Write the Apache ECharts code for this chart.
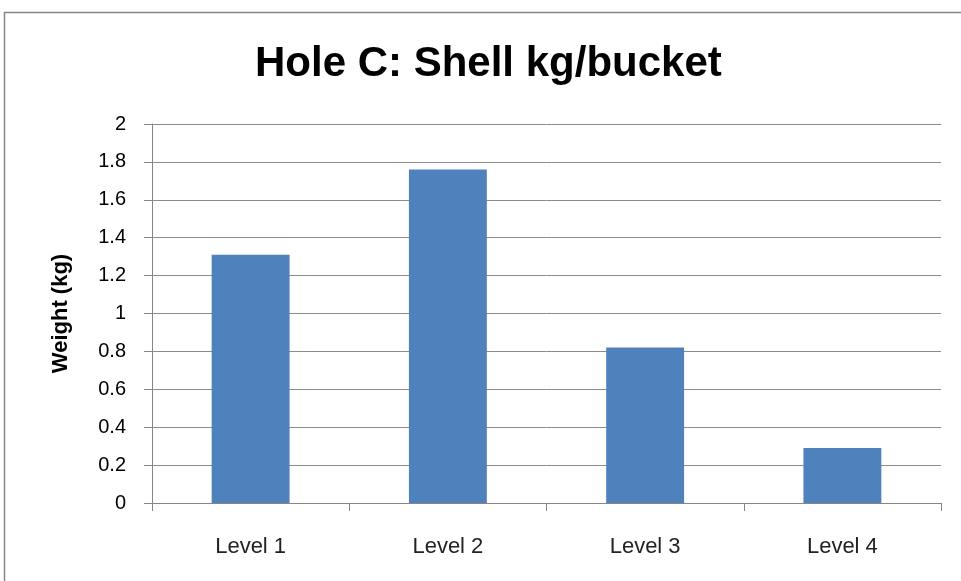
<!DOCTYPE html>
<html>
<head>
<meta charset="utf-8">
<script src="https://cdn.jsdelivr.net/npm/echarts@6/dist/echarts.min.js"></script>
<style>html,body{margin:0;padding:0;background:#fff;}#c{width:961px;height:581px;}</style>
</head>
<body>
<div id="c"></div>
<script>
const categories = ['Level 1', 'Level 2', 'Level 3', 'Level 4'];
const weights = [1.31, 1.76, 0.82, 0.29];
const titleText = 'Hole C: Shell kg/bucket';
const yName = 'Weight (kg)';

const chart = echarts.init(document.getElementById('c'));
chart.setOption({
  animation: false,
  backgroundColor: '#fff',
  graphic: [{
    type: 'rect',
    shape: { x: 4.5, y: 12.5, width: 1000, height: 1000 },
    style: { fill: 'none', stroke: '#868686', lineWidth: 1.5 },
    silent: true
  }],
  title: {
    text: titleText,
    left: 255,
    top: 43,
    padding: 0,
    textStyle: { fontFamily: 'Liberation Sans, sans-serif', fontWeight: 'bold', fontSize: 42, color: '#000' }
  },
  grid: { left: 152, right: 20, top: 124, bottom: 78, containLabel: false },
  xAxis: {
    type: 'category',
    data: categories,
    axisLine: { lineStyle: { color: '#868686', width: 1 } },
    axisTick: { show: true, length: 8, alignWithLabel: false, lineStyle: { color: '#868686' } },
    axisLabel: { margin: 33, fontFamily: 'Liberation Sans, sans-serif', fontSize: 22, color: '#222' },
    splitLine: { show: false }
  },
  yAxis: {
    type: 'value',
    min: 0, max: 2, interval: 0.2,
    name: yName,
    nameLocation: 'middle',
    nameGap: 80,
    nameTextStyle: { fontFamily: 'Liberation Sans, sans-serif', fontWeight: 'bold', fontSize: 22, color: '#000' },
    axisLine: { show: true, lineStyle: { color: '#868686', width: 1 } },
    axisTick: { show: true, length: 8, lineStyle: { color: '#868686' } },
    axisLabel: { margin: 26, fontFamily: 'Liberation Sans, sans-serif', fontSize: 20, color: '#000',
      formatter: v => String(Math.round(v * 10) / 10) },
    splitLine: { lineStyle: { color: '#8c8c8c', width: 1 } }
  },
  series: [{
    type: 'bar',
    data: weights,
    barWidth: '39.5%',
    itemStyle: { color: '#4F81BD' }
  }]
});
</script>
</body>
</html>
